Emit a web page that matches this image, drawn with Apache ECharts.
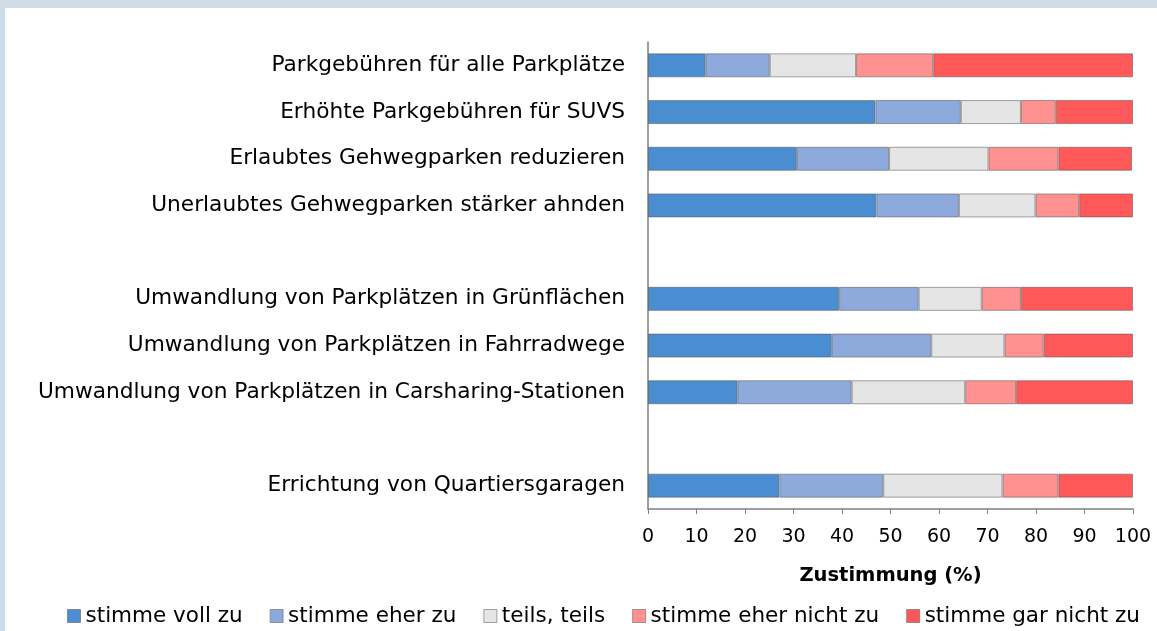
<!DOCTYPE html>
<html><head><meta charset="utf-8">
<script src="https://cdn.jsdelivr.net/npm/echarts@6/dist/echarts.min.js"></script>
<style>
html,body{margin:0;padding:0;width:1157px;height:631px;overflow:hidden;background:#cfdde8;}
#frame{position:absolute;left:5px;top:8px;width:1152px;height:623px;background:#fff;}
#chart{position:absolute;left:-5px;top:-8px;width:1157px;height:631px;}
</style></head>
<body><div id="frame"><div id="chart"></div></div>
<script>
const categories = [
  'Parkgebühren für alle Parkplätze',
  'Erhöhte Parkgebühren für SUVS',
  'Erlaubtes Gehwegparken reduzieren',
  'Unerlaubtes Gehwegparken stärker ahnden',
  '',
  'Umwandlung von Parkplätzen in Grünflächen',
  'Umwandlung von Parkplätzen in Fahrradwege',
  'Umwandlung von Parkplätzen in Carsharing-Stationen',
  ' ',
  'Errichtung von Quartiersgaragen'
];
const seriesNames = ['stimme voll zu','stimme eher zu','teils, teils','stimme eher nicht zu','stimme gar nicht zu'];
const stimmeVollZu      = [11.9, 46.9, 30.7, 47.1, null, 39.4, 37.9, 18.5, null, 27.1];
const stimmeEherZu      = [13.2, 17.6, 19.0, 17.0, null, 16.4, 20.5, 23.5, null, 21.4];
const teilsTeils        = [17.8, 12.4, 20.5, 15.8, null, 13.0, 15.1, 23.4, null, 24.6];
const stimmeEherNicht   = [15.9,  7.2, 14.4,  9.0, null,  8.1,  8.1, 10.5, null, 11.5];
const stimmeGarNicht    = [41.2, 15.9, 15.2, 11.1, null, 23.1, 18.4, 24.1, null, 15.4];
const xTicks = [0,10,20,30,40,50,60,70,80,90,100];
const colors = ['#4a8dd0','#8eaadc','#e5e5e5','#ff9191','#ff5858'];
const allData = [stimmeVollZu, stimmeEherZu, teilsTeils, stimmeEherNicht, stimmeGarNicht];

const font = '"DejaVu Sans", Verdana, sans-serif';
const chart = echarts.init(document.getElementById('chart'), null, {renderer:'canvas'});
chart.setOption({
  backgroundColor: 'transparent',
  animation: false,
  textStyle: {fontFamily: font, color:'#000'},
  grid: {left: 648, right: 24, top: 42, bottom: 122, containLabel: false},
  xAxis: {
    type: 'value', min: xTicks[0], max: xTicks[xTicks.length-1], interval: 10,
    name: 'Zustimmung (%)', nameLocation: 'middle', nameGap: 57,
    nameTextStyle: {fontFamily: font, fontWeight: 'bold', fontSize: 19.5, color:'#000'},
    axisLine: {show: true, lineStyle: {color: '#7f7f7f', width: 1.5}},
    axisTick: {show: true, length: 5, lineStyle: {color: '#7f7f7f'}},
    axisLabel: {fontFamily: font, fontSize: 19, color: '#000', margin: 19},
    splitLine: {show: false}
  },
  yAxis: {
    type: 'category', data: categories, inverse: true,
    axisLine: {show: true, lineStyle: {color: '#7f7f7f', width: 1.5}},
    axisTick: {show: false},
    axisLabel: {fontFamily: font, fontSize: 21.7, color: '#000', margin: 23}
  },
  legend: {
    left: 62, top: 600, itemWidth: 13, itemHeight: 13, itemGap: 27,
    icon: 'rect',
    textStyle: {fontFamily: font, fontSize: 21.5, color:'#000', padding:[0,0,0,0]},
    itemStyle: {borderColor: 'rgba(90,90,90,0.55)', borderWidth: 1},
    data: seriesNames
  },
  series: seriesNames.map((n,i)=>({
    name: n, type: 'bar', stack: 'total', data: allData[i], barWidth: 24,
    itemStyle: {color: colors[i], borderColor: 'rgba(90,90,90,0.55)', borderWidth: 1}
  }))
});
</script></body></html>
